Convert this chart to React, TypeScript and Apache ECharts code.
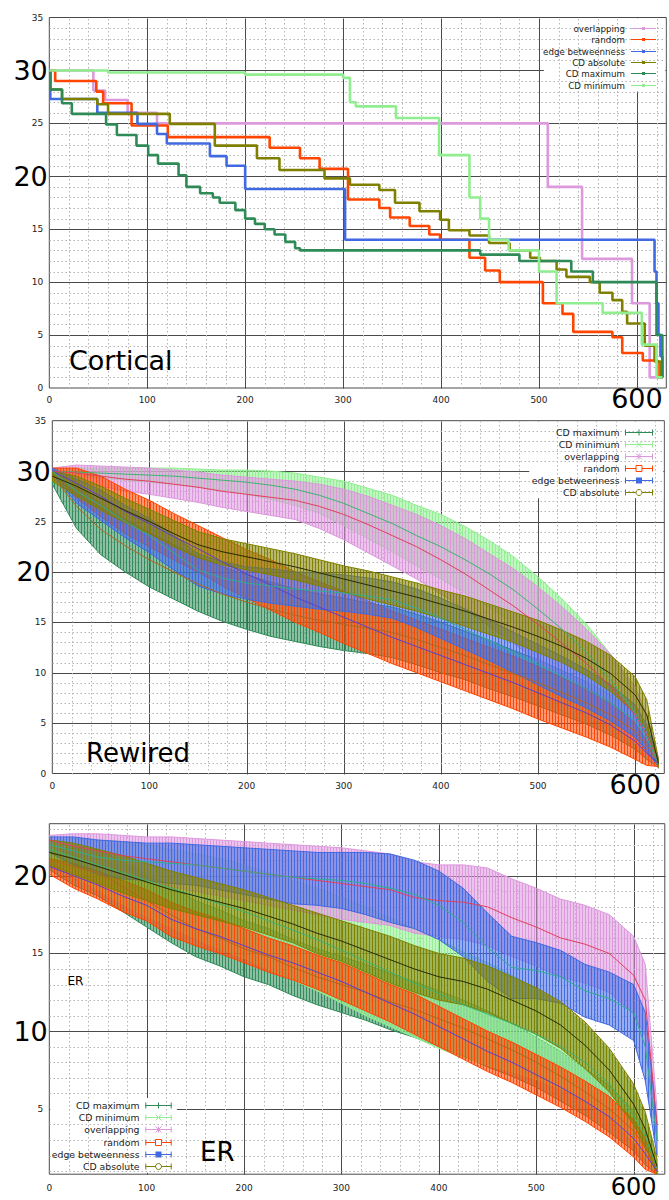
import React, { useEffect, useRef } from "react";
import * as echarts from "echarts";

const FONT = "DejaVu Sans";

type Pt = [number, number];

// ---------- names, colours ----------
const NAMES_CORTICAL = ["overlapping", "random", "edge betweenness", "CD absolute", "CD maximum", "CD minimum"];
const NAMES_ERRBAR = ["CD maximum", "CD minimum", "overlapping", "random", "edge betweenness", "CD absolute"];

const COLOR: Record<string, string> = {
  overlapping: "#dd99dd",
  random: "#ff4500",
  "edge betweenness": "#4169e1",
  "CD absolute": "#808000",
  "CD maximum": "#2e8b57",
  "CD minimum": "#90ee90",
};
// bar stripe / gap colours of the error-bar bands
const RGB: Record<string, string> = {
  overlapping: "221,150,221",
  random: "255,69,0",
  "edge betweenness": "65,105,225",
  "CD absolute": "128,128,0",
  "CD maximum": "46,139,87",
  "CD minimum": "144,238,144",
};
const MEAN_COLOR: Record<string, string> = {
  overlapping: "#e0405a",
  random: "#5a3fd0",
  "edge betweenness": "#2fae8f",
  "CD absolute": "#2a2a00",
  "CD maximum": "#b5651d",
  "CD minimum": "#3cb371",
};
const MARKER: Record<string, string> = {
  "CD maximum": "plus",
  "CD minimum": "cross",
  overlapping: "star",
  random: "square",
  "edge betweenness": "filled",
  "CD absolute": "circle",
};

// ---------- axis ticks ----------
const X_LABELS = [0, 100, 200, 300, 400, 500, 600];
const X_MAJOR = [100, 200, 300, 400, 500, 600];
const X_MINOR = [20, 40, 60, 80, 120, 140, 160, 180, 220, 240, 260, 280, 320, 340, 360, 380, 420, 440, 460, 480, 520, 540, 560, 580, 620];
const Y_LABELS_A = [0, 5, 10, 15, 20, 25, 30, 35];
const Y_BIG_A = [20, 30];
const Y_MAJOR_A = [5, 10, 15, 20, 25, 30];
const Y_MINOR_A = [1, 2, 3, 4, 6, 7, 8, 9, 11, 12, 13, 14, 16, 17, 18, 19, 21, 22, 23, 24, 26, 27, 28, 29, 31, 32, 33, 34];
const Y_LABELS_B = [5, 10, 15, 20];
const Y_BIG_B = [10, 20];
const Y_MAJOR_B = [5, 10, 15, 20];
const Y_MINOR_B = [1, 2, 3, 4, 6, 7, 8, 9, 11, 12, 13, 14, 16, 17, 18, 19, 21, 22, 23];
const X_BIG = 600;

// ---------- Cortical: step curves [x, level from x on] ----------
const cortOverlapping: Pt[] = [[0, 30], [45, 28.1], [57, 27.2], [80, 26.0], [110, 25.0], [509, 19], [544, 12.2], [595, 8], [613, 1], [626, 1]];
const cortRandom: Pt[] = [[0, 30], [6, 29], [48, 28], [55, 26.9], [84, 24.8], [121, 23.7], [225, 22.7], [256, 21.7], [276, 20.7], [305, 17.8], [337, 17], [348, 16.1], [368, 15.3], [388, 14.5], [399, 14], [429, 12.3], [445, 11.1], [460, 10], [504, 8], [524, 7], [535, 5.3], [575, 4.8], [585, 3.3], [606, 2.6], [621, 1], [626, 1]];
const cortEdge: Pt[] = [[0, 30], [1, 27.3], [49, 26], [90, 24.95], [110, 24], [120, 23.1], [164, 21.9], [181, 21], [200, 18.8], [302, 14], [616, 14], [618, 11], [620, 8], [622, 5], [624, 3], [626, 1]];
const cortAbsolute: Pt[] = [[0, 30], [1, 28.2], [13, 27.3], [49, 26.8], [60, 25.9], [123, 24.95], [169, 22.9], [212, 21.7], [235, 20.6], [281, 19.8], [307, 19.2], [337, 18.7], [353, 17.5], [378, 16.7], [399, 15.9], [408, 14.9], [429, 14.4], [449, 13.7], [470, 13], [491, 12.3], [501, 12], [518, 11.2], [528, 10.5], [552, 10], [562, 9], [575, 8.3], [585, 7.2], [590, 6.1], [608, 4], [618, 2.5], [624, 1], [626, 1]];
const cortMaximum: Pt[] = [[0, 30], [1, 28.2], [13, 26.9], [23, 25.9], [58, 24.9], [69, 23.9], [89, 22.9], [101, 22], [111, 21.2], [132, 20.1], [140, 19], [154, 18.4], [167, 18], [174, 17.5], [190, 16.8], [200, 16], [210, 15.5], [220, 15], [230, 14.5], [241, 13.8], [251, 13.2], [256, 13], [440, 12.6], [480, 12], [533, 11], [555, 10], [616, 10], [620, 5], [626, 1]];
const cortMinimum: Pt[] = [[0, 30], [60, 29.8], [200, 29.6], [300, 29.3], [307, 27], [313, 26.6], [354, 25.5], [398, 22], [429, 18], [440, 16], [449, 14], [469, 13], [500, 11], [518, 8], [565, 7.1], [605, 4.1], [620, 1], [626, 1]];
const CORTICAL: Record<string, Pt[]> = {
  overlapping: cortOverlapping,
  random: cortRandom,
  "edge betweenness": cortEdge,
  "CD absolute": cortAbsolute,
  "CD maximum": cortMaximum,
  "CD minimum": cortMinimum,
};

// ---------- Rewired / ER: mean and spread at sampled x ----------
const BAND_X = [0, 25, 50, 75, 100, 125, 150, 175, 200, 225, 250, 275, 300, 325, 350, 375, 400, 425, 450, 475, 500, 525, 550, 575, 600, 612, 624];

const rwMaxMean = [29.5, 26.5, 24.2, 22.6, 21.2, 20, 18.8, 17.8, 17, 16.3, 15.7, 15.2, 14.8, 14.4, 14, 13.3, 12.5, 11.7, 10.8, 9.9, 9, 8, 7, 5.8, 4.2, 2.8, 1];
const rwMaxSd = [0.8, 2.2, 2.5, 2.6, 2.7, 2.7, 2.7, 2.7, 2.7, 2.7, 2.6, 2.6, 2.6, 2.5, 2.5, 2.5, 2.5, 2.4, 2.4, 2.3, 2.3, 2.2, 2.1, 2, 1.8, 1.4, 0.4];
const rwMinMean = [30, 29.9, 29.8, 29.7, 29.6, 29.5, 29.3, 29.1, 28.9, 28.6, 28.2, 27.6, 26.8, 25.8, 24.8, 23.6, 22.5, 21.2, 19.8, 18.2, 16.3, 14.3, 12, 9.3, 6, 3.8, 1];
const rwMinSd = [0.2, 0.4, 0.5, 0.6, 0.7, 0.8, 0.9, 1, 1.2, 1.4, 1.6, 1.8, 2.2, 2.5, 2.8, 3, 3.2, 3.3, 3.3, 3.3, 3.2, 3, 2.8, 2.5, 2, 1.5, 0.5];
const rwOvlMean = [30, 29.8, 29.5, 29.2, 29, 28.7, 28.4, 28, 27.7, 27.4, 27.1, 26.5, 25.7, 24.7, 23.6, 22.5, 21.2, 19.8, 18.2, 16.6, 14.8, 12.9, 10.9, 8.6, 5.8, 3.8, 1];
const rwOvlSd = [0.3, 0.8, 1, 1.2, 1.3, 1.4, 1.5, 1.6, 1.7, 1.8, 1.9, 2.2, 2.5, 2.8, 3, 3.2, 3.4, 3.5, 3.6, 3.7, 3.7, 3.6, 3.4, 3.2, 2.8, 2, 0.5];
const rwRndMean = [30, 28.8, 27.5, 26, 24.8, 23.5, 22.3, 21, 19.8, 18.7, 17.5, 16.5, 15.5, 14.5, 13.5, 12.6, 11.7, 10.8, 9.9, 9, 8, 7, 6, 4.8, 3.2, 2, 1];
const rwRndSd = [0.3, 1.5, 2, 2.2, 2.3, 2.3, 2.3, 2.4, 2.4, 2.5, 2.5, 2.5, 2.6, 2.6, 2.6, 2.6, 2.6, 2.6, 2.6, 2.6, 2.6, 2.5, 2.4, 2.2, 1.8, 1.2, 0.3];
const rwEdgeMean = [30, 28, 26.6, 25, 23.6, 21.9, 20.2, 19.4, 18.9, 18.6, 18.3, 18.1, 17.9, 17.6, 17.2, 16.4, 15.4, 14.3, 13.2, 12, 10.8, 9.6, 8.4, 7, 5.2, 3.5, 1];
const rwEdgeSd = [0.3, 1.2, 1.5, 1.6, 1.7, 1.7, 1.6, 1.6, 1.6, 1.7, 1.7, 1.8, 1.8, 1.8, 1.8, 1.9, 2, 2, 2, 2, 2, 2, 1.9, 1.8, 1.6, 1.3, 0.3];
const rwAbsMean = [29.5, 28.5, 27.3, 26.1, 25, 23.8, 22.7, 22, 21.5, 21, 20.5, 19.9, 19.3, 18.7, 18.1, 17.5, 16.8, 16.1, 15.3, 14.5, 13.6, 12.6, 11.4, 9.9, 7.8, 5.8, 1];
const rwAbsSd = [0.5, 1, 1.2, 1.2, 1.2, 1.3, 1.3, 1.3, 1.3, 1.3, 1.3, 1.3, 1.3, 1.4, 1.4, 1.4, 1.4, 1.5, 1.5, 1.5, 1.6, 1.6, 1.7, 1.8, 1.8, 1.5, 0.4];

const erMaxMean = [21, 20.6, 20.2, 19.3, 18.4, 17.5, 16.6, 16, 15.3, 14.8, 14.1, 13.5, 13, 12.5, 11.9, 11.4, 10.8, 10.2, 9.5, 8.8, 8, 7.1, 6.1, 5, 3.6, 2.5, 1.1];
const erMaxSd = [0.6, 1.2, 1.5, 1.6, 1.7, 1.8, 1.8, 1.8, 1.8, 1.8, 1.8, 1.8, 1.8, 1.8, 1.8, 1.8, 1.8, 1.8, 1.8, 1.7, 1.6, 1.6, 1.5, 1.5, 1.3, 1.1, 0.3];
const erMinMean = [21.7, 21.2, 20.7, 20.2, 19.7, 19.2, 18.7, 18.2, 17.7, 17.1, 16.5, 15.9, 15.2, 14.5, 13.8, 13.1, 12.4, 11.7, 11.1, 10.5, 9.8, 9, 8, 6.6, 4.6, 3.2, 1.2];
const erMinSd = [0.5, 1.2, 1.6, 2, 2.3, 2.5, 2.7, 2.9, 3, 3.1, 3.2, 3.3, 3.4, 3.5, 3.5, 3.5, 3.5, 3.4, 3.3, 3.1, 2.9, 2.7, 2.4, 2.1, 1.7, 1.3, 0.4];
const erOvlMean = [22.3, 21.9, 21.6, 21.3, 21.1, 20.9, 20.7, 20.5, 20.3, 20.1, 19.9, 19.7, 19.5, 19.3, 19.1, 18.6, 18.4, 18.3, 18, 17.3, 16.7, 16, 15.6, 15, 13.6, 12, 4];
const erOvlSd = [0.3, 0.8, 1.1, 1.3, 1.4, 1.6, 1.7, 1.8, 1.9, 2, 2.1, 2.2, 2.3, 2.3, 2.3, 2.3, 2.3, 2.4, 2.5, 2.5, 2.5, 2.5, 2.5, 2.5, 2.5, 2.3, 1];
const erRndMean = [20.6, 20, 19.4, 18.7, 18.1, 17.2, 16.6, 16.1, 15.5, 14.9, 14.4, 13.8, 13.2, 12.5, 11.8, 11.1, 10.3, 9.5, 8.7, 8, 7.2, 6.4, 5.5, 4.5, 3.1, 2.1, 1];
const erRndSd = [0.5, 0.8, 0.9, 1, 1, 1.1, 1.1, 1.1, 1.1, 1.1, 1.1, 1.1, 1.2, 1.2, 1.2, 1.3, 1.3, 1.3, 1.3, 1.3, 1.3, 1.3, 1.3, 1.3, 1.2, 1, 0.2];
const erEdgeMean = [22, 21.6, 21.2, 21, 20.9, 20.8, 20.7, 20.5, 20.3, 20.1, 19.9, 19.8, 19.7, 19.5, 19.2, 18.8, 18.1, 17, 15.4, 14.1, 13.9, 13.5, 12.6, 12.1, 11.2, 9, 3];
const erEdgeSd = [0.5, 0.9, 1.1, 1.2, 1.2, 1.3, 1.3, 1.4, 1.5, 1.6, 1.7, 1.7, 1.8, 2, 2.2, 2.2, 2.2, 2.2, 2.2, 2, 1.8, 1.7, 1.7, 1.7, 1.8, 2.2, 1];
const erAbsMean = [21.5, 21.1, 20.6, 20.1, 19.6, 19.1, 18.7, 18.3, 17.9, 17.4, 16.9, 16.3, 15.8, 15.2, 14.6, 14, 13.5, 13.2, 12.7, 12, 11.3, 10.4, 9.1, 7.5, 5.3, 3.7, 1.3];
const erAbsSd = [0.8, 1, 1.1, 1.2, 1.2, 1.2, 1.2, 1.2, 1.2, 1.2, 1.2, 1.3, 1.3, 1.4, 1.5, 1.5, 1.5, 1.5, 1.5, 1.5, 1.5, 1.5, 1.5, 1.4, 1.3, 1.1, 0.5];

const REWIRED: Record<string, [number[], number[]]> = {
  "CD maximum": [rwMaxMean, rwMaxSd],
  "CD minimum": [rwMinMean, rwMinSd],
  overlapping: [rwOvlMean, rwOvlSd],
  random: [rwRndMean, rwRndSd],
  "edge betweenness": [rwEdgeMean, rwEdgeSd],
  "CD absolute": [rwAbsMean, rwAbsSd],
};
const ER: Record<string, [number[], number[]]> = {
  "CD maximum": [erMaxMean, erMaxSd],
  "CD minimum": [erMinMean, erMinSd],
  overlapping: [erOvlMean, erOvlSd],
  random: [erRndMean, erRndSd],
  "edge betweenness": [erEdgeMean, erEdgeSd],
  "CD absolute": [erAbsMean, erAbsSd],
};

// ---------- panel layout ----------
type Panel = {
  left: number; top: number; width: number; height: number;
  xMax: number; yMin: number; yMax: number;
  yLabels: number[]; yBig: number[]; yMajor: number[]; yMinor: number[];
  xMargin: number; bigSize: number; box: number[];
};
const PANELS: Panel[] = [
  { left: 49.3, top: 17.5, width: 617, height: 370.5, xMax: 630, yMin: 0, yMax: 35, yLabels: Y_LABELS_A, yBig: Y_BIG_A, yMajor: Y_MAJOR_A, yMinor: Y_MINOR_A, xMargin: 6, bigSize: 27, box: [505, 28, 629, 34.9] },
  { left: 52.3, top: 420.7, width: 612, height: 352.8, xMax: 630, yMin: 0, yMax: 35, yLabels: Y_LABELS_A, yBig: Y_BIG_A, yMajor: Y_MAJOR_A, yMinor: Y_MINOR_A, xMargin: 7.3, bigSize: 27, box: [491, 27.3, 629, 34.9] },
  { left: 49.3, top: 823.7, width: 615.5, height: 350.5, xMax: 632, yMin: 0.8, yMax: 23.35, yLabels: Y_LABELS_B, yBig: Y_BIG_B, yMajor: Y_MAJOR_B, yMinor: Y_MINOR_B, xMargin: 8.5, bigSize: 24, box: [1, 0.9, 131, 5.7] },
];

const snap = (v: number) => Math.round(v) + 0.5;

function gridLayer(i: number, p: Panel) {
  return {
    type: "custom",
    xAxisIndex: i,
    yAxisIndex: i,
    z: 1,
    silent: true,
    data: [[0, p.yMin]],
    renderItem: (_params: any, api: any) => {
      const P = (x: number, y: number) => api.coord([x, y]);
      const seg = (a: number[], b: number[], style: any) => ({
        type: "line",
        shape: { x1: snap(a[0]), y1: snap(a[1]), x2: snap(b[0]), y2: snap(b[1]) },
        style,
      });
      const major = { stroke: "#4a4a4a", lineWidth: 1 };
      const minor = { stroke: "#b4b4b4", lineWidth: 1, lineDash: [1.5, 2.5] };
      const children: any[] = [];
      X_MAJOR.forEach((x) => children.push(seg(P(x, p.yMin), P(x, p.yMax), major)));
      p.yMajor.forEach((y) => children.push(seg(P(0, y), P(p.xMax, y), major)));
      const a = P(p.box[0], p.box[3]);
      const b = P(p.box[2], p.box[1]);
      children.push({ type: "rect", shape: { x: a[0], y: a[1], width: b[0] - a[0], height: b[1] - a[1] }, style: { fill: "#ffffff" } });
      X_MINOR.forEach((x) => children.push(seg(P(x, p.yMin), P(x, p.yMax), minor)));
      p.yMinor.forEach((y) => children.push(seg(P(0, y), P(p.xMax, y), minor)));
      return { type: "group", children };
    },
  };
}

// vertical-stripe fill imitating densely packed error bars
const patternCache: Record<string, any> = {};
function stripeFill(name: string) {
  if (patternCache[name]) return patternCache[name];
  const c = document.createElement("canvas");
  c.width = 3;
  c.height = 2;
  const g = c.getContext("2d")!;
  g.fillStyle = `rgba(${RGB[name]},0.55)`;
  g.fillRect(0, 0, 3, 2);
  g.fillStyle = `rgba(${RGB[name]},0.95)`;
  g.fillRect(0, 0, 1, 2);
  patternCache[name] = { image: c, repeat: "repeat", imageWidth: 3, imageHeight: 2 };
  return patternCache[name];
}

function bandSeries(name: string, i: number, mean: number[], sd: number[]) {
  return {
    type: "custom",
    name,
    xAxisIndex: i,
    yAxisIndex: i,
    silent: true,
    clip: true,
    data: [[BAND_X[0], mean[0]]],
    renderItem: (_params: any, api: any) => {
      const upper = BAND_X.map((x, k) => api.coord([x, mean[k] + sd[k]]));
      const lower = BAND_X.map((x, k) => api.coord([x, mean[k] - sd[k]])).reverse();
      return {
        type: "polygon",
        shape: { points: upper.concat(lower) },
        style: { fill: stripeFill(name), stroke: COLOR[name], lineWidth: 1 },
      };
    },
  };
}

function meanSeries(name: string, i: number, mean: number[]) {
  return {
    type: "line",
    name: name + " mean",
    xAxisIndex: i,
    yAxisIndex: i,
    silent: true,
    showSymbol: false,
    data: BAND_X.map((x, k) => [x, mean[k]]),
    lineStyle: { color: MEAN_COLOR[name], width: 1 },
    itemStyle: { color: MEAN_COLOR[name] },
  };
}

function markerShapes(kind: string, cx: number, cy: number, color: string) {
  const s = 3;
  const ln = (x1: number, y1: number, x2: number, y2: number) => ({ type: "line", z: 100, shape: { x1, y1, x2, y2 }, style: { stroke: color, lineWidth: 1 } });
  if (kind === "plus") return [ln(cx - s, cy, cx + s, cy), ln(cx, cy - s, cx, cy + s)];
  if (kind === "cross") return [ln(cx - s, cy - s, cx + s, cy + s), ln(cx - s, cy + s, cx + s, cy - s)];
  if (kind === "star") return [ln(cx - s, cy, cx + s, cy), ln(cx, cy - s, cx, cy + s), ln(cx - s, cy - s, cx + s, cy + s), ln(cx - s, cy + s, cx + s, cy - s)];
  if (kind === "square") return [{ type: "rect", z: 100, shape: { x: cx - s, y: cy - s, width: 2 * s, height: 2 * s }, style: { fill: "#fff", stroke: color, lineWidth: 1 } }];
  if (kind === "filled") return [{ type: "rect", z: 100, shape: { x: cx - s, y: cy - s, width: 2 * s, height: 2 * s }, style: { fill: color } }];
  return [{ type: "circle", z: 100, shape: { cx, cy, r: s }, style: { fill: "#fff", stroke: color, lineWidth: 1 } }];
}

function legend(names: string[], textRight: number, x1: number, x2: number, y0: number, dy: number, fontSize: number, errorBars: boolean) {
  const out: any[] = [];
  names.forEach((name, k) => {
    const y = Math.round(y0 + k * dy) + 0.5;
    const c = COLOR[name];
    out.push({
      type: "text",
      z: 100,
      x: textRight,
      y,
      style: { text: name, fontSize, fontFamily: FONT, fill: "#222", align: "right", verticalAlign: "middle", textAlign: "right", textVerticalAlign: "middle" },
    });
    out.push({ type: "line", z: 100, shape: { x1, y1: y, x2, y2: y }, style: { stroke: c, lineWidth: 1 } });
    const mid = (x1 + x2) / 2;
    if (errorBars) {
      out.push({ type: "line", z: 100, shape: { x1: x1 + 0.5, y1: y - 3, x2: x1 + 0.5, y2: y + 3 }, style: { stroke: c, lineWidth: 1 } });
      out.push({ type: "line", z: 100, shape: { x1: x2 - 0.5, y1: y - 3, x2: x2 - 0.5, y2: y + 3 }, style: { stroke: c, lineWidth: 1 } });
      markerShapes(MARKER[name], mid, y, c).forEach((m) => out.push(m));
    } else {
      out.push({ type: "rect", z: 100, shape: { x: mid - 1.5, y: y - 1.5, width: 3, height: 3 }, style: { fill: c } });
    }
  });
  return out;
}

function buildOption() {
  const series: any[] = [];
  PANELS.forEach((p, i) => series.push(gridLayer(i, p)));

  NAMES_CORTICAL.forEach((name) => {
    series.push({
      type: "line",
      name,
      xAxisIndex: 0,
      yAxisIndex: 0,
      step: "end",
      showSymbol: false,
      silent: true,
      data: CORTICAL[name],
      lineStyle: { color: COLOR[name], width: 2.6 },
      itemStyle: { color: COLOR[name] },
    });
  });

  [REWIRED, ER].forEach((set, j) => {
    const i = j + 1;
    NAMES_ERRBAR.forEach((name) => {
      const [mean, sd] = set[name];
      series.push(bandSeries(name, i, mean, sd));
      series.push(meanSeries(name, i, mean));
    });
  });

  const xAxis = PANELS.map((p, i) => ({
    type: "value",
    gridIndex: i,
    min: 0,
    max: p.xMax,
    axisLine: { show: false },
    axisTick: { show: false },
    splitLine: { show: false },
    axisLabel: {
      customValues: X_LABELS,
      margin: p.xMargin,
      formatter: (v: number) => (v === X_BIG ? `{big|${v}}` : X_LABELS.includes(v) ? `{small|${v}}` : ""),
      rich: {
        small: { fontSize: 9, fontFamily: FONT, color: "#222", lineHeight: 11 },
        big: { fontSize: p.bigSize, fontFamily: FONT, color: "#000", lineHeight: 8 },
      },
    },
  }));

  const yAxis = PANELS.map((p, i) => ({
    type: "value",
    gridIndex: i,
    min: p.yMin,
    max: p.yMax,
    axisLine: { show: false },
    axisTick: { show: false },
    splitLine: { show: false },
    axisLabel: {
      customValues: p.yLabels,
      margin: 1.5,
      formatter: (v: number) => (p.yBig.includes(v) ? `{big|${v}}` : p.yLabels.includes(v) ? `{small|${v}}` : ""),
      rich: {
        small: { fontSize: 9, fontFamily: FONT, color: "#222", padding: [0, 4.5, 0, 0] },
        big: { fontSize: 27, fontFamily: FONT, color: "#000", lineHeight: 30 },
      },
    },
  }));

  const bigText = (text: string, x: number, y: number, size: number) => ({
    type: "text",
    z: 100,
    x,
    y,
    style: { text, fontSize: size, fontFamily: FONT, fill: "#000", align: "left", verticalAlign: "middle", textAlign: "left", textVerticalAlign: "middle" },
  });

  const graphic = [
    bigText("Cortical", 69, 360, 27),
    bigText("Rewired", 86, 753, 26),
    bigText("ER", 200, 1152, 26),
    bigText("ER", 67.5, 980.5, 12),
    ...legend(NAMES_CORTICAL, 625, 631, 656, 28, 11.34, 8.7, false),
    ...legend(NAMES_ERRBAR, 619.5, 625, 653, 431.7, 12.1, 9.3, true),
    ...legend(NAMES_ERRBAR, 139.5, 145.3, 171.7, 1105, 12.2, 9.3, true),
  ];

  return {
    animation: false,
    backgroundColor: "#ffffff",
    grid: PANELS.map((p) => ({
      left: p.left,
      top: p.top,
      width: p.width,
      height: p.height,
      show: true,
      borderColor: "#4a4a4a",
      borderWidth: 1,
      backgroundColor: "transparent",
    })),
    xAxis,
    yAxis,
    series,
    graphic,
  };
}

export default function App() {
  const ref = useRef<HTMLDivElement>(null);
  useEffect(() => {
    if (!ref.current) return;
    const chart = echarts.init(ref.current, undefined, { renderer: "svg" });
    chart.setOption(buildOption() as any);
    return () => chart.dispose();
  }, []);
  return <div ref={ref} style={{ position: "absolute", left: 0, top: 0, width: 669, height: 1200, background: "#fff" }} />;
}
